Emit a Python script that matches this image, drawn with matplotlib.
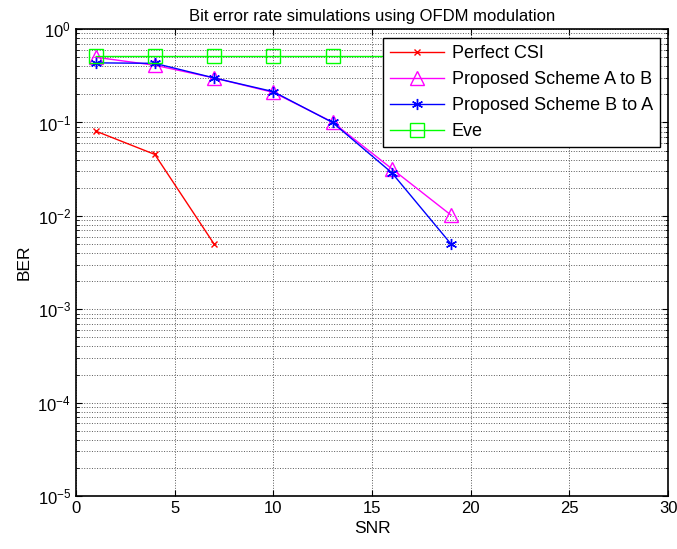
import matplotlib
matplotlib.use('Agg')
import matplotlib.pyplot as plt
from matplotlib.ticker import LogLocator, NullFormatter

plt.rcParams['font.family'] = ['Liberation Sans', 'DejaVu Sans']
plt.rcParams['mathtext.fontset'] = 'custom'
plt.rcParams['mathtext.rm'] = 'Liberation Sans'
plt.rcParams['mathtext.it'] = 'Liberation Sans'

# datos
snr_csi = [1, 4, 7]
ber_csi = [0.081, 0.0455, 0.005]

snr = [1, 4, 7, 10, 13, 16, 19]
ber_ab = [0.50, 0.41, 0.30, 0.210, 0.101, 0.032, 0.0102]
ber_ba = [0.435, 0.43, 0.30, 0.214, 0.100, 0.029, 0.0050]

snr_eve = [1, 4, 7, 10, 13, 16, 19, 22, 25, 28]
ber_eve = [0.51, 0.51, 0.51, 0.51, 0.51, 0.51, 0.51, 0.51, 0.51, 0.51]

fig = plt.figure(figsize=(6.77, 5.49), dpi=100)
ax = fig.add_axes([0.112, 0.0965, 0.875, 0.8505])

ax.semilogy(snr_csi, ber_csi, color='red', marker='x', markersize=5, lw=1, label='Perfect CSI')
ax.semilogy(snr, ber_ab, color='magenta', marker='^', markersize=10, mfc='none', lw=1,
            label='Proposed Scheme A to B')
ax.semilogy(snr, ber_ba, color='blue', marker=(6, 2, 0), markersize=8, lw=1,
            label='Proposed Scheme B to A')
ax.semilogy(snr_eve, ber_eve, color='#00ff00', marker='s', markersize=10, mfc='none', lw=1,
            label='Eve')

ax.set_xlim(0, 30)
ax.set_ylim(1e-5, 1)
ax.set_xticks([0, 5, 10, 15, 20, 25, 30])
ax.yaxis.set_major_locator(LogLocator(base=10, numticks=10))
ax.yaxis.set_minor_locator(LogLocator(base=10, subs=range(2, 10), numticks=20))
ax.yaxis.set_minor_formatter(NullFormatter())

ax.grid(True, which='major', linestyle=':', color='0.35', linewidth=0.7)
ax.grid(True, which='minor', axis='y', linestyle=':', color='0.35', linewidth=0.7)
ax.tick_params(which='both', direction='in', top=True, right=True, labelsize=12)
ax.tick_params(which='major', length=4)
ax.tick_params(which='minor', length=2)
for s in ax.spines.values():
    s.set_linewidth(1.2)

ax.set_title('Bit error rate simulations using OFDM modulation', fontsize=12)
ax.set_xlabel('SNR', fontsize=12.5)
ax.set_ylabel('BER', fontsize=12.5)

leg = ax.legend(loc='upper right', bbox_to_anchor=(0.986, 0.981), fontsize=13,
                fancybox=False, framealpha=1, edgecolor='black', handlelength=3.0,
                borderaxespad=0, labelspacing=0.5, handletextpad=0.4)
leg.get_frame().set_linewidth(1.0)

fig.savefig('out.png', dpi=100)
